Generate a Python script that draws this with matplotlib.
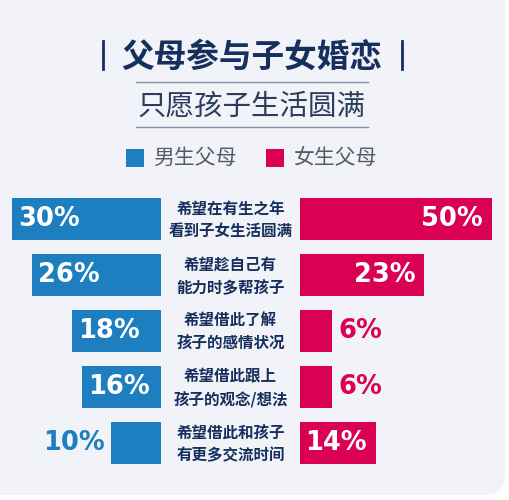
import matplotlib
matplotlib.use("Agg")
import matplotlib.pyplot as plt
from matplotlib.patches import FancyBboxPatch, Rectangle
from matplotlib.lines import Line2D

# ---- data ----
categories = ["希望在有生之年\n看到子女生活圆满",
              "希望趁自己有\n能力时多帮孩子",
              "希望借此了解\n孩子的感情状况",
              "希望借此跟上\n孩子的观念/想法",
              "希望借此和孩子\n有更多交流时间"]
male_parents = [30, 26, 18, 16, 10]
female_parents = [50, 23, 6, 6, 14]
series_names = ["男生父母", "女生父母"]
title = "父母参与子女婚恋"
subtitle = "只愿孩子生活圆满"

BLUE = "#1d7fc0"
PINK = "#da0054"
NAVY = "#16305d"
BG = "#f1f3f8"
CJK = ["Noto Sans CJK SC", "DejaVu Sans"]

W, H = 509, 500
fig = plt.figure(figsize=(W / 100, H / 100), dpi=100)
fig.patch.set_facecolor("white")

def fx(x):
    return x / W

def fy(y):
    return 1 - y / H

# card background
card = FancyBboxPatch((fx(-30), fy(495)), fx(535), 495 / H + 0.1,
                      boxstyle="round,pad=0,rounding_size=0.04",
                      transform=fig.transFigure, facecolor=BG,
                      edgecolor="none", zorder=-5)
fig.patches.append(card)

# title
fig.text(fx(252), fy(57), title, ha="center", va="center", fontsize=23.5,
         fontweight="heavy", color=NAVY, family=CJK)
for xb in (103, 402):
    fig.add_artist(Line2D([fx(xb), fx(xb)], [fy(41), fy(69)], color=NAVY,
                          lw=2.0, transform=fig.transFigure))
for yl in (82, 127):
    fig.add_artist(Line2D([fx(136), fx(368)], [fy(yl), fy(yl)],
                          color="#8792a6", lw=1.0, transform=fig.transFigure))
fig.text(fx(252), fy(106), subtitle, ha="center", va="center", fontsize=20.5,
         color="#2b3c5c", family=CJK, fontweight="light")

# legend
for (x0, col, name) in ((126, BLUE, series_names[0]), (266, PINK, series_names[1])):
    fig.patches.append(Rectangle((fx(x0), fy(167)), fx(18), 18 / H,
                                 transform=fig.transFigure, facecolor=col,
                                 edgecolor="none"))
    fig.text(fx(x0 + 27), fy(158), name, ha="left", va="center",
             fontsize=15, color="#555b68", family=CJK, fontweight="light")

# bar axes
top, bottom = 191, 471
ax_l = fig.add_axes([0, fy(bottom), fx(161), (bottom - top) / H])
ax_r = fig.add_axes([fx(300), fy(bottom), fx(192), (bottom - top) / H])
ax_l.set_zorder(2)
ax_r.set_zorder(2)
n = len(categories)
ypos = list(range(n))
bh = 0.75
ax_l.barh(ypos, male_parents, height=bh, color=BLUE)
ax_r.barh(ypos, female_parents, height=bh, color=PINK)
ax_l.set_xlim(32.5, 0)
ax_r.set_xlim(0, 35.5)
for ax in (ax_l, ax_r):
    ax.set_ylim(n - 0.5, -0.5)
    ax.axis("off")
    ax.patch.set_alpha(0)

val_font = dict(fontsize=18.5, fontweight="bold", family="DejaVu Sans")
thr = 12
for i, v in enumerate(male_parents):
    end = min(v, ax_l.get_xlim()[0])
    if v >= thr:
        ax_l.annotate(f"{v}%", xy=(end, i), xytext=(6, 0), textcoords="offset pixels",
                      ha="left", va="center", color="white", **val_font)
    else:
        ax_l.annotate(f"{v}%", xy=(end, i), xytext=(-7, 0), textcoords="offset pixels",
                      ha="right", va="center", color=BLUE, **val_font)
for i, v in enumerate(female_parents):
    end = min(v, ax_r.get_xlim()[1])
    if v >= thr:
        ax_r.annotate(f"{v}%", xy=(end, i), xytext=(-9, 0), textcoords="offset pixels",
                      ha="right", va="center", color="white", annotation_clip=False,
                      **val_font)
    else:
        ax_r.annotate(f"{v}%", xy=(end, i), xytext=(6, 0), textcoords="offset pixels",
                      ha="left", va="center", color=PINK, **val_font)

# centre labels
for i, c in enumerate(categories):
    yc = top + (i + 0.5) * (bottom - top) / n + 1
    fig.text(fx(230.5), fy(yc), c, ha="center", va="center", fontsize=11.2,
             fontweight="bold", color=NAVY, family=CJK, linespacing=1.45)

fig.savefig("out.png", dpi=100, facecolor=fig.get_facecolor())
